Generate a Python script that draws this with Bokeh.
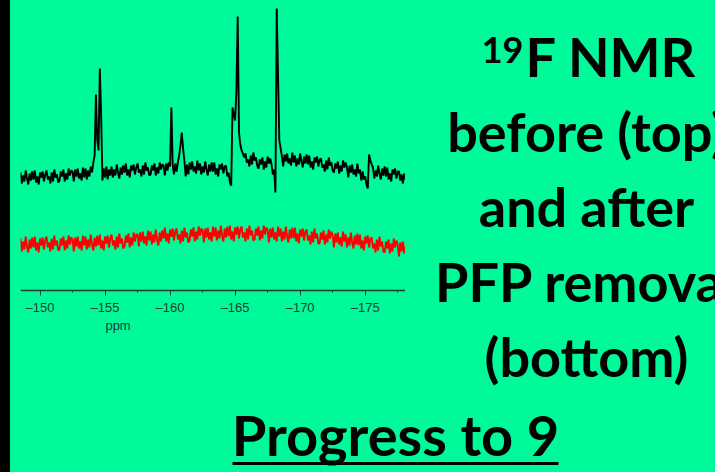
from bokeh.plotting import figure
from bokeh.models import Range1d, FixedTicker, Spacer
from bokeh.layouts import row, column
from bokeh.core.properties import value
from bokeh.embed import file_html
from bokeh.resources import INLINE
import numpy as np

# ---------------- data ----------------
ppm_start = -148.5
ppm_step = -0.1

# 19F spectrum before PFP removal (top, black), arbitrary intensity units
before = [
    118, 107, 115, 109, 120, 112, 106, 117, 110, 119,
    111, 120, 108, 114, 106, 118, 113, 119, 109, 116,
    120, 111, 114, 107, 118, 109, 121, 113, 116, 108,
    110, 119, 114, 121, 109, 117, 111, 122, 115, 120,
    119, 109, 121, 114, 122, 112, 117, 110, 123, 113,
    122, 111, 120, 114, 124, 118, 128, 135,
    196, 150, 140, 222, 175, 110,
    122, 113, 124, 111, 121, 115,
    124, 113, 121, 115, 126, 118, 112, 123, 116, 125,
    118, 127, 115, 121, 113, 125, 120, 126, 116, 123,
    127, 118, 121, 114, 125, 116, 128, 120, 123, 115,
    116, 125, 120, 127, 115, 123, 117, 128, 121, 126,
    125, 115, 127, 120, 128, 124,
    183, 126, 116,
    127, 119, 128,
    135, 145, 158, 142, 130,
    114,
    126, 116, 128, 121, 129, 119, 124, 117, 130, 120,
    127, 116, 124, 118, 129, 121, 115, 126, 119, 128,
    119, 128, 116, 122, 114, 126, 121, 127, 117, 124,
    125, 114, 118,
    108, 105,
    183, 176, 170, 200, 274, 158, 146, 140, 137, 133,
    137, 128, 131, 124, 135, 126, 138, 130, 133, 125,
    122, 131, 126, 133, 121, 129, 123, 134, 127, 132,
    126, 116, 121,
    98, 282, 215, 150, 142,
    134, 124, 136, 129, 137, 127, 132, 125, 138, 128,
    135, 124, 132, 126, 137, 129, 123, 134, 127, 136,
    126, 135, 123, 129, 121, 133, 128, 134, 124, 131,
    132, 123, 126, 119, 130, 121, 133, 125, 128, 120,
    118, 127, 122, 129, 117, 125, 119, 130, 123, 128,
    123, 113, 125, 118, 126, 116, 121, 114, 127, 117,
    121, 110, 119, 111, 114,
    106, 102,
    136, 130, 126,
    123, 112, 120, 114, 125, 117, 111, 122, 115, 124,
    114, 123, 111, 117, 109, 121, 116, 122, 112, 119,
    119, 110, 116, 107, 117, 111,
]

# 19F spectrum after PFP removal (bottom, red)
after = [
    52, 39, 49, 41, 54, 44, 38, 51, 42, 53,
    43, 54, 40, 48, 38, 52, 45, 53, 41, 50,
    54, 43, 48, 39, 52, 41, 55, 45, 50, 40,
    41, 52, 45, 54, 40, 50, 42, 55, 46, 53,
    51, 39, 53, 44, 54, 42, 49, 40, 55, 45,
    54, 41, 51, 43, 56, 46, 40, 53, 44, 55,
    45, 56, 42, 50, 40, 54, 47, 55, 43, 52,
    56, 45, 50, 41, 54, 43, 57, 47, 52, 42,
    44, 55, 48, 57, 43, 53, 45, 58, 49, 56,
    56, 44, 58, 49, 59, 47, 54, 45, 60, 50,
    59, 46, 56, 48, 61, 51, 45, 58, 49, 60,
    52, 63, 49, 57, 47, 61, 54, 62, 50, 59,
    62, 51, 56, 47, 60, 49, 63, 53, 58, 48,
    50, 61, 54, 63, 49, 59, 51, 64, 55, 62,
    60, 48, 62, 53, 63, 51, 58, 49, 64, 54,
    63, 50, 60, 52, 65, 55, 49, 62, 53, 64,
    54, 65, 51, 59, 49, 63, 56, 64, 52, 61,
    64, 53, 58, 49, 62, 51, 65, 55, 60, 50,
    51, 62, 55, 64, 50, 60, 52, 65, 56, 63,
    60, 48, 62, 53, 63, 51, 58, 49, 64, 54,
    62, 49, 59, 51, 64, 54, 48, 61, 52, 63,
    52, 63, 49, 57, 47, 61, 54, 62, 50, 59,
    61, 50, 55, 46, 59, 48, 62, 52, 57, 47,
    47, 58, 51, 60, 46, 56, 48, 61, 52, 59,
    55, 43, 57, 48, 58, 46, 53, 44, 59, 49,
    56, 43, 53, 45, 58, 48, 42, 55, 46, 57,
    45, 56, 42, 50, 40, 54, 47, 55, 43, 52,
    53, 42, 47, 38, 51, 40, 54, 44, 49, 39,
    38, 49, 42, 51, 37, 47, 39, 52, 43, 50,
    46, 34, 48, 39, 49, 37, 44,
]

tick_values = [-150, -155, -160, -165, -170, -175]
tick_labels = ["\u2013150", "\u2013155", "\u2013160", "\u2013165", "\u2013170", "\u2013175"]
minor_ticks = [-152.5, -157.5, -162.5, -167.5, -172.5, -177.5]
axis_title = "ppm"
iso_sup = "19"
title_first = "F NMR"
title_lines = ["before (top)", "and after", "PFP removal", "(bottom)"]
footer = "Progress to 9"

ppm = ppm_start + ppm_step * np.arange(len(before))

GREEN = "#00FA9A"
INK = "#1f3d30"
BG = {"background-color": GREEN}
TOP_H = 414      # height of the upper row
FRAME_H = 389    # plot frame height in the upper row
FOOT_H = 472 - TOP_H

# ---------------- spectrum ----------------
spec = figure(width=395, height=TOP_H, x_range=Range1d(-148.5, -178.1), y_range=Range1d(290 - FRAME_H, 290),
              toolbar_location=None, output_backend="svg",
              min_border_left=10, min_border_right=0, min_border_top=0, min_border_bottom=TOP_H - FRAME_H,
              background_fill_color=GREEN, border_fill_color=GREEN, outline_line_color=None,
              styles=BG)

spec.line(ppm, before, line_color="black", line_width=1.9)
spec.line(ppm, after, line_color="#ff0000", line_width=1.9)

spec.yaxis.visible = False
spec.grid.visible = False
ax = spec.xaxis[0]
ax.fixed_location = 0
ax.ticker = FixedTicker(ticks=tick_values, minor_ticks=minor_ticks)
ax.major_label_overrides = {v: t for v, t in zip(tick_values, tick_labels)}
ax.axis_line_color = INK
ax.axis_line_width = 1.3
ax.major_tick_line_color = INK
ax.minor_tick_line_color = INK
ax.major_tick_in = 0
ax.major_tick_out = 5
ax.minor_tick_in = 0
ax.minor_tick_out = 2
ax.major_label_standoff = 4
ax.major_label_text_font = "Liberation Sans"
ax.major_label_text_font_size = "13px"
ax.major_label_text_color = INK

spec.text(x=[-156.0], y=[-35], text=[axis_title], text_align="center", text_baseline="alphabetic",
          text_font=value("Liberation Sans"), text_font_size="13px", text_color=INK)

# ---------------- caption ----------------
cap = figure(width=310, height=TOP_H, x_range=Range1d(0, 310), y_range=Range1d(390 - FRAME_H, 390),
             toolbar_location=None, output_backend="svg",
             min_border_left=0, min_border_right=0, min_border_top=0, min_border_bottom=TOP_H - FRAME_H,
             background_fill_color=GREEN, border_fill_color=GREEN, outline_line_color=None,
             styles=BG)
cap.axis.visible = False
cap.grid.visible = False

cap.text(x=[118], y=[341], text=[iso_sup], text_align="right", text_baseline="alphabetic",
         text_font=value("Lato"), text_font_size="36px", text_font_style="bold", text_color="black")
cap.text(x=[120], y=[334], text=[title_first], text_align="left", text_baseline="alphabetic",
         text_font=value("Lato"), text_font_size="54px", text_font_style="bold", text_color="black")
cap.text(x=[181] * len(title_lines), y=[259, 184, 109, 34], text=title_lines,
         text_align="center", text_baseline="alphabetic",
         text_font=value("Lato"), text_font_size="54px", text_font_style="bold", text_color="black")

# ---------------- footer ----------------
foot = figure(width=705, height=FOOT_H, x_range=Range1d(0, 705), y_range=Range1d(0, FOOT_H),
              toolbar_location=None, output_backend="svg", min_border=0,
              background_fill_color=GREEN, border_fill_color=GREEN, outline_line_color=None,
              styles=BG)
foot.axis.visible = False
foot.grid.visible = False
foot.text(x=[385], y=[38], text=[footer], text_align="center", text_baseline="alphabetic",
          text_font=value("Lato"), text_font_size="56px", text_font_style="bold", text_color="black")
foot.segment(x0=[222], y0=[9], x1=[548], y1=[9], line_color="black", line_width=3)

bar_top = Spacer(width=10, height=TOP_H, styles={"background-color": "black"})
bar_bot = Spacer(width=10, height=FOOT_H, styles={"background-color": "black"})

layout = column(row(bar_top, spec, cap, spacing=0, styles=BG),
                row(bar_bot, foot, spacing=0, styles=BG),
                spacing=0, styles=BG)

open("out.html", "w").write(file_html(layout, INLINE))
